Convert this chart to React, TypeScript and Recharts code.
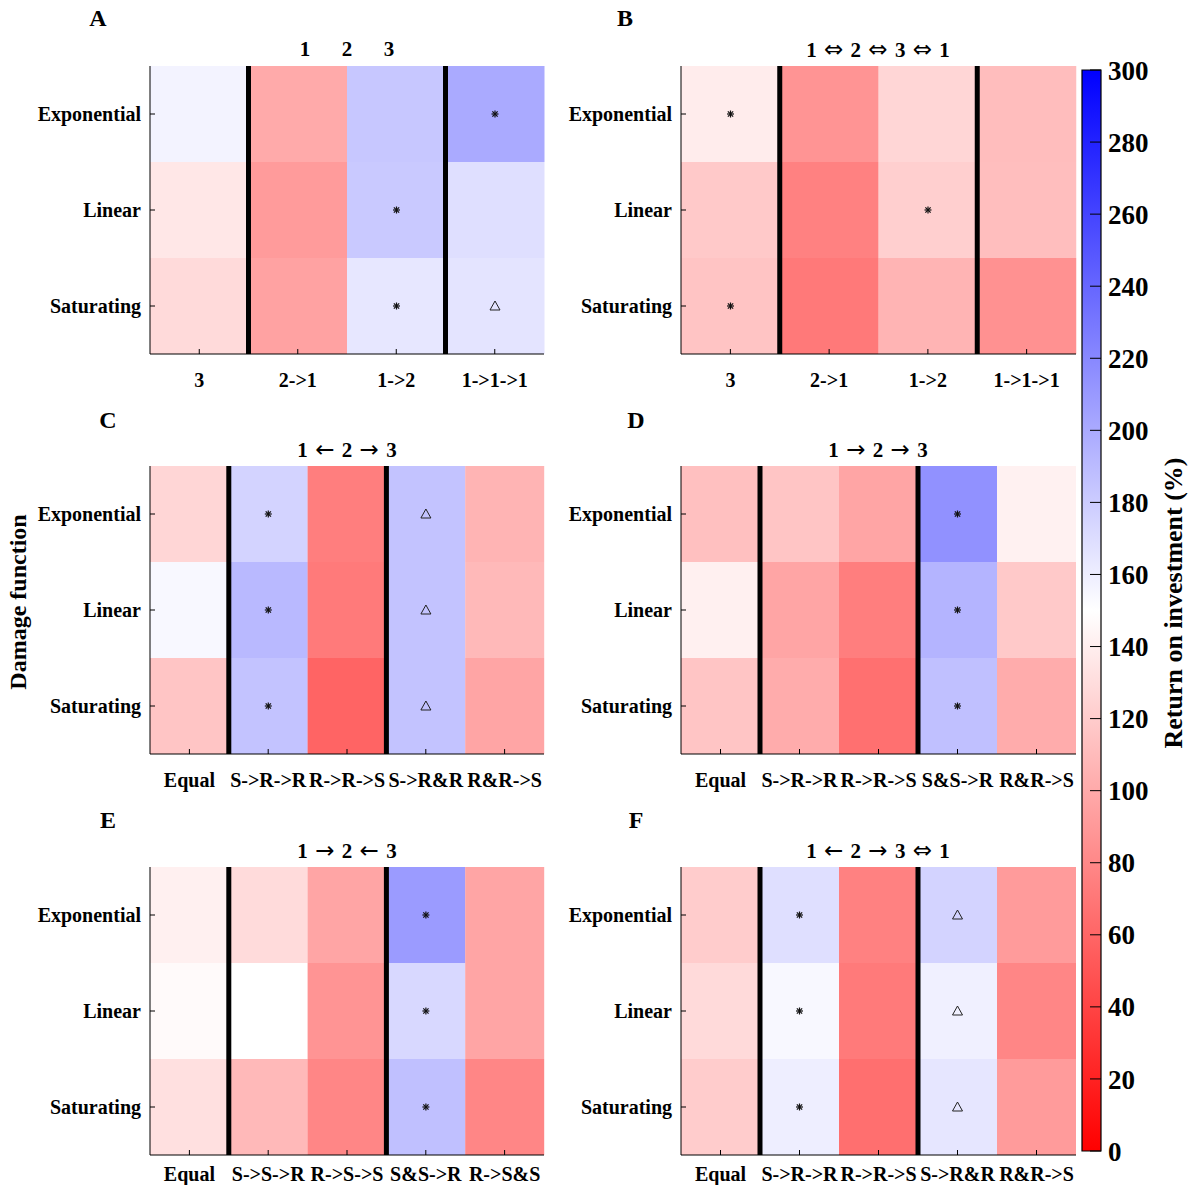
import { Bar, BarChart, Cell, LabelList, ReferenceLine, XAxis, YAxis } from 'recharts';

const serif = "'Liberation Serif', 'Times New Roman', serif";

// rows of every panel, top to bottom
const rowNames = ['Exponential', 'Linear', 'Saturating'];

// thick lines after these column counts
const separatorsAfter = [1, 3];

// A
const colsA = ['3', '2->1', '1->2', '1->1->1'];
const expA = [157, 100, 183, 200];
const linA = [136, 91, 182, 169];
const satA = [128, 95, 164, 166];
const expMarkA = ['', '', '', '*'];
const linMarkA = ['', '', '*', ''];
const satMarkA = ['', '', '*', '△'];

// B
const colsB = ['3', '2->1', '1->2', '1->1->1'];
const expB = [139, 87, 126, 111];
const linB = [118, 76, 122, 112];
const satB = [115, 71, 106, 85];
const expMarkB = ['*', '', '', ''];
const linMarkB = ['', '', '*', ''];
const satMarkB = ['*', '', '', ''];

// C
const colsC = ['Equal', 'S->R->R', 'R->R->S', 'S->R&R', 'R&R->S'];
const expC = [126, 176, 74, 185, 106];
const linC = [154, 191, 72, 185, 109];
const satC = [116, 185, 59, 185, 97];
const expMarkC = ['', '*', '', '△', ''];
const linMarkC = ['', '*', '', '△', ''];
const satMarkC = ['', '*', '', '△', ''];

// D
const colsD = ['Equal', 'S->R->R', 'R->R->S', 'S&S->R', 'R&R->S'];
const expD = [113, 116, 97, 215, 142];
const linD = [141, 97, 74, 194, 118];
const satD = [116, 101, 66, 187, 101];
const expMarkD = ['', '', '', '*', ''];
const linMarkD = ['', '', '', '*', ''];
const satMarkD = ['', '', '', '*', ''];

// E
const colsE = ['Equal', 'S->S->R', 'R->S->S', 'S&S->R', 'R->S&S'];
const expE = [141, 129, 97, 209, 97];
const linE = [147, 150, 87, 173, 97];
const satE = [132, 109, 79, 187, 79];
const expMarkE = ['', '', '', '*', ''];
const linMarkE = ['', '', '', '*', ''];
const satMarkE = ['', '', '', '*', ''];

// F
const colsF = ['Equal', 'S->R->R', 'R->R->S', 'S->R&R', 'R&R->S'];
const expF = [120, 169, 76, 176, 91];
const linF = [128, 154, 72, 159, 79];
const satF = [120, 160, 65, 165, 91];
const expMarkF = ['', '*', '', '△', ''];
const linMarkF = ['', '*', '', '△', ''];
const satMarkF = ['', '*', '', '△', ''];

const colorbarTicks = [0, 20, 40, 60, 80, 100, 120, 140, 160, 180, 200, 220, 240, 260, 280, 300];

const panels = [
  { letter: 'A', title: '1       2       3', cols: colsA, exp: expA, lin: linA, sat: satA, em: expMarkA, lm: linMarkA, sm: satMarkA, left: 0, top: 66, lx: 98, ly: 18, tm: 24 },
  { letter: 'B', title: '1 ⇔ 2 ⇔ 3 ⇔ 1', cols: colsB, exp: expB, lin: linB, sat: satB, em: expMarkB, lm: linMarkB, sm: satMarkB, left: 531, top: 66, lx: 625, ly: 18, tm: 24 },
  { letter: 'C', title: '1 ← 2 → 3', cols: colsC, exp: expC, lin: linC, sat: satC, em: expMarkC, lm: linMarkC, sm: satMarkC, left: 0, top: 466, lx: 108, ly: 420, tm: 24 },
  { letter: 'D', title: '1 → 2 → 3', cols: colsD, exp: expD, lin: linD, sat: satD, em: expMarkD, lm: linMarkD, sm: satMarkD, left: 531, top: 466, lx: 636, ly: 420, tm: 24 },
  { letter: 'E', title: '1 → 2 ← 3', cols: colsE, exp: expE, lin: linE, sat: satE, em: expMarkE, lm: linMarkE, sm: satMarkE, left: 0, top: 867, lx: 108, ly: 820, tm: 17 },
  { letter: 'F', title: '1 ← 2 → 3 ⇔ 1', cols: colsF, exp: expF, lin: linF, sat: satF, em: expMarkF, lm: linMarkF, sm: satMarkF, left: 531, top: 867, lx: 636, ly: 820, tm: 17 },
];

// red (0) -> white (150) -> blue (300)
function roiColor(v: number) {
  if (v <= 150) {
    const g = Math.round((255 * v) / 150);
    return `rgb(255,${g},${g})`;
  }
  const r = Math.round(255 * (1 - (v - 150) / 150));
  return `rgb(${r},${r},255)`;
}

function MarkerLabel(props: any) {
  const vb = props.viewBox ?? props;
  const value = props.value;
  if (!value) return null;
  const cx = vb.x + vb.width / 2;
  const cy = vb.y + vb.height / 2;
  if (value === '△') {
    return (
      <path
        d={`M${cx},${cy - 5} L${cx + 5},${cy + 4} L${cx - 5},${cy + 4} Z`}
        fill='none'
        stroke='#222'
        strokeWidth={1}
      />
    );
  }
  const r = 3.5;
  return (
    <g stroke='#111' strokeWidth={1.2}>
      <line x1={cx - r} y1={cy} x2={cx + r} y2={cy} />
      <line x1={cx} y1={cy - r} x2={cx} y2={cy + r} />
      <line x1={cx - r * 0.75} y1={cy - r * 0.75} x2={cx + r * 0.75} y2={cy + r * 0.75} />
      <line x1={cx - r * 0.75} y1={cy + r * 0.75} x2={cx + r * 0.75} y2={cy - r * 0.75} />
    </g>
  );
}

const tickFont = { fill: '#000', fontSize: 20, fontWeight: 'bold', fontFamily: serif };

function Heatmap({ panel }: { panel: (typeof panels)[number] }) {
  const data = panel.cols.map((col, i) => ({
    col,
    exp: panel.exp[i],
    lin: panel.lin[i],
    sat: panel.sat[i],
    expMark: panel.em[i],
    linMark: panel.lm[i],
    satMark: panel.sm[i],
    expBand: 1,
    linBand: 1,
    satBand: 1,
  }));
  // stacked bottom to top
  const rows = [
    { key: 'sat', band: 'satBand', mark: 'satMark' },
    { key: 'lin', band: 'linBand', mark: 'linMark' },
    { key: 'exp', band: 'expBand', mark: 'expMark' },
  ];
  return (
    <div style={{ position: 'absolute', left: panel.left, top: panel.top - 10 }}>
      <BarChart
        width={560}
        height={348}
        data={data}
        margin={{ top: 10, right: panel.left === 0 ? 16 : 15, bottom: 0, left: 0 }}
        barCategoryGap={0}
      >
        <XAxis
          dataKey='col'
          interval={0}
          height={50}
          tickSize={-5}
          tickMargin={panel.tm}
          axisLine={{ stroke: '#000' }}
          tickLine={{ stroke: '#000' }}
          tick={tickFont}
        />
        <YAxis
          type='number'
          domain={[0, 3]}
          ticks={[0.5, 1.5, 2.5]}
          interval={0}
          width={150}
          tickSize={-5}
          tickMargin={14}
          tickFormatter={(v: number) => rowNames[2 - Math.floor(v)]}
          axisLine={{ stroke: '#000' }}
          tickLine={{ stroke: '#000' }}
          tick={tickFont}
        />
        {rows.map((r) => (
          <Bar key={r.key} dataKey={r.band} stackId='grid' isAnimationActive={false}>
            {data.map((d: any, i) => (
              <Cell key={i} fill={roiColor(d[r.key])} />
            ))}
            <LabelList dataKey={r.mark} content={MarkerLabel} />
          </Bar>
        ))}
        {separatorsAfter.map((s) => (
          <ReferenceLine key={s} x={panel.cols[s - 1]} position='end' stroke='#000' strokeWidth={5} />
        ))}
      </BarChart>
    </div>
  );
}

function Colorbar() {
  return (
    <div style={{ position: 'absolute', left: 1060, top: 40 }}>
      <BarChart
        width={133}
        height={1135}
        data={[{ name: 'roi', top: 300 }]}
        margin={{ top: 30, right: 0, bottom: 24, left: 22 }}
        barCategoryGap={0}
      >
        <defs>
          <linearGradient id='roiGradient' x1='0' y1='0' x2='0' y2='1'>
            <stop offset='0%' stopColor='rgb(0,0,255)' />
            <stop offset='50%' stopColor='rgb(255,255,255)' />
            <stop offset='100%' stopColor='rgb(255,0,0)' />
          </linearGradient>
        </defs>
        <XAxis dataKey='name' hide />
        <YAxis
          orientation='right'
          type='number'
          domain={[0, 300]}
          ticks={colorbarTicks}
          interval={0}
          width={92}
          tickSize={-11}
          tickMargin={18}
          axisLine={false}
          tickLine={{ stroke: '#000' }}
          tick={{ fill: '#000', fontSize: 27, fontWeight: 'bold', fontFamily: serif }}
        />
        <Bar dataKey='top' fill='url(#roiGradient)' stroke='#000' strokeWidth={1.2} isAnimationActive={false} />
      </BarChart>
    </div>
  );
}

function FreeText({ x, y, size, children, rotate }: any) {
  return (
    <div
      style={{
        position: 'absolute',
        left: x,
        top: y,
        transform: `translate(-50%, -50%)${rotate ? ` rotate(${rotate}deg)` : ''}`,
        fontFamily: serif,
        fontWeight: 'bold',
        fontSize: size,
        lineHeight: 1,
        whiteSpace: 'pre',
        color: '#000',
      }}
    >
      {children}
    </div>
  );
}

const arrowChars = ['⇔', '←', '→'];

function Title({ text }: { text: string }) {
  return (
    <>
      {text.split(' ').map((part, i) =>
        arrowChars.includes(part) ? (
          <span key={i} style={{ fontFamily: "'DejaVu Sans', sans-serif", fontWeight: 'normal', fontSize: 23 }}>
            {` ${part} `}
          </span>
        ) : (
          <span key={i}>{part === '' ? ' ' : part}</span>
        ),
      )}
    </>
  );
}

export default function App() {
  return (
    <div
      style={{
        position: 'absolute',
        left: 0,
        top: 0,
        width: 1193,
        height: 1185,
        overflow: 'hidden',
        background: '#fff',
      }}
    >
      {panels.map((p) => (
        <Heatmap key={p.letter} panel={p} />
      ))}
      {panels.map((p) => (
        <FreeText key={`l${p.letter}`} x={p.lx} y={p.ly} size={24}>
          {p.letter}
        </FreeText>
      ))}
      {panels.map((p) => (
        <FreeText key={`t${p.letter}`} x={p.left === 0 ? 347 : 878} y={p.top - 17} size={21}>
          <Title text={p.title} />
        </FreeText>
      ))}
      <FreeText x={18} y={602} size={24} rotate={-90}>
        Damage function
      </FreeText>
      <Colorbar />
      <FreeText x={1174} y={603} size={26} rotate={-90}>
        Return on investment (%)
      </FreeText>
    </div>
  );
}
